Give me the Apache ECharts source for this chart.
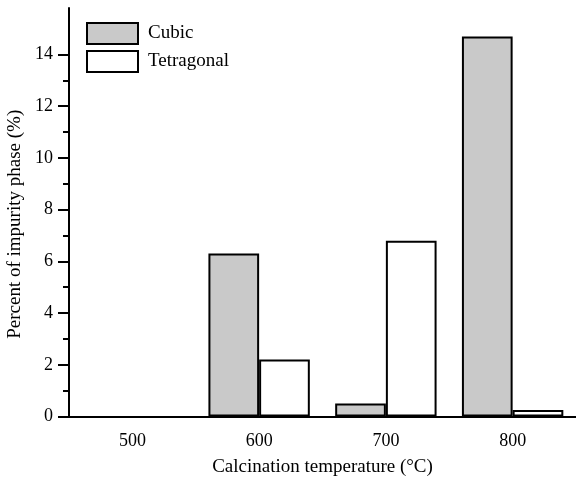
<!DOCTYPE html>
<html>
<head>
<meta charset="utf-8">
<script src="https://cdn.jsdelivr.net/npm/echarts@6/dist/echarts.min.js"></script>
<style>
  html, body { margin: 0; padding: 0; background: #fff; }
  #chart { width: 576px; height: 485px; }
</style>
</head>
<body>
<div id="chart"></div>
<script>
// calcination temperatures (°C)
const temperatures = ['500', '600', '700', '800']
// impurity phase percent
const cubic = [0, 6.3, 0.5, 14.7]
const tetragonal = [0, 2.2, 6.8, 0.25]
// y axis ticks
const majorTicks = [0, 2, 4, 6, 8, 10, 12, 14]
const minorTicks = [1, 3, 5, 7, 9, 11, 13]

const font = 'Liberation Serif, Times New Roman, serif'
const chart = echarts.init(document.getElementById('chart'))

// zero bars are not drawn in the original (no outline on the axis)
const hideZero = arr => arr.map(v => (v === 0 ? '-' : v))

const yBase = {
  type: 'value',
  min: 0,
  max: 15.8,
  position: 'left',
  splitLine: { show: false }
}

chart.setOption({
  animation: false,
  textStyle: { fontFamily: font, color: '#000' },
  grid: { left: 69, right: 0, top: 8, bottom: 68.5, outerBoundsMode: 'none' },
  legend: {
    orient: 'vertical',
    left: 86,
    top: 22,
    padding: 0,
    icon: 'rect',
    itemWidth: 51,
    itemHeight: 21,
    itemGap: 5,
    textStyle: { fontFamily: font, fontSize: 19, color: '#000', padding: [0, 0, 0, 5] },
    data: ['Cubic', 'Tetragonal']
  },
  xAxis: {
    type: 'category',
    data: temperatures,
    boundaryGap: true,
    z: 5,
    name: 'Calcination temperature (°C)',
    nameLocation: 'middle',
    nameGap: 41,
    nameTextStyle: { fontFamily: font, fontSize: 19, color: '#000' },
    axisLine: { lineStyle: { color: '#000', width: 2 } },
    axisTick: { alignWithLabel: true, length: 11, interval: 0, lineStyle: { color: '#000', width: 2 } },
    axisLabel: { fontFamily: font, fontSize: 18, color: '#000', margin: 16 }
  },
  yAxis: [
    Object.assign({}, yBase, {
      name: 'Percent of impurity phase (%)',
      nameLocation: 'middle',
      nameGap: 36,
      nameTextStyle: { fontFamily: font, fontSize: 19, color: '#000', padding: [0, 24, 0, 0] },
      axisLine: { show: true, lineStyle: { color: '#000', width: 2 } },
      axisTick: { show: true, length: 11, customValues: majorTicks, lineStyle: { color: '#000', width: 2 } },
      axisLabel: { fontFamily: font, fontSize: 18, color: '#000', margin: 16, customValues: majorTicks }
    }),
    Object.assign({}, yBase, {
      axisLine: { show: false },
      axisTick: { show: true, length: 6, customValues: minorTicks, lineStyle: { color: '#000', width: 2 } },
      axisLabel: { show: false }
    })
  ],
  series: [
    {
      name: 'Cubic',
      type: 'bar',
      data: hideZero(cubic),
      barWidth: '40%',
      barGap: '0%',
      itemStyle: { color: '#c9c9c9', borderColor: '#000', borderWidth: 2 }
    },
    {
      name: 'Tetragonal',
      type: 'bar',
      data: hideZero(tetragonal),
      barWidth: '40%',
      barGap: '0%',
      itemStyle: { color: '#fff', borderColor: '#000', borderWidth: 2 }
    }
  ]
})
</script>
</body>
</html>
